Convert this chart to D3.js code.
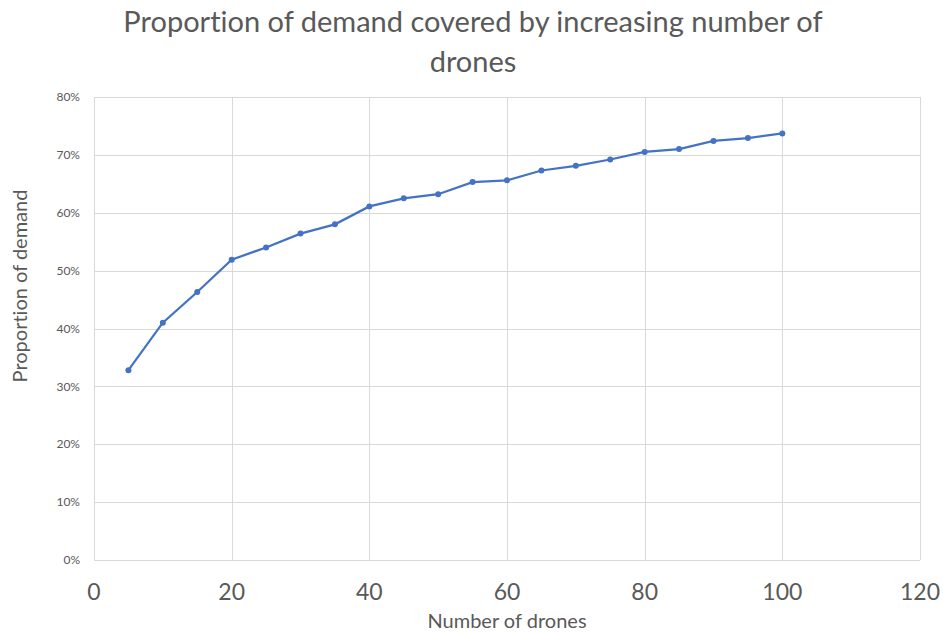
<!DOCTYPE html>
<html>
<head>
<meta charset="utf-8">
<script src="https://cdn.jsdelivr.net/npm/d3@7"></script>
<style>
  body { margin: 0; background: #fff; }
  text { font-family: Lato, "Open Sans", sans-serif; fill: #595959; font-variant-ligatures: none; }
</style>
</head>
<body>
<div id="chart"></div>
<script>
// number of drones and the share of demand they cover
var drones = [5, 10, 15, 20, 25, 30, 35, 40, 45, 50, 55, 60, 65, 70, 75, 80, 85, 90, 95, 100];
var demand = [0.328, 0.410, 0.463, 0.519, 0.540, 0.564, 0.580, 0.611, 0.625, 0.632, 0.653, 0.656, 0.673, 0.681, 0.692, 0.705, 0.710, 0.724, 0.729, 0.737];
var xTicks = [0, 20, 40, 60, 80, 100, 120];
var yTicks = [0, 0.1, 0.2, 0.3, 0.4, 0.5, 0.6, 0.7, 0.8];
var titleLines = ["Proportion of demand covered by increasing number of", "drones"];

var width = 943, height = 633;
var plotLeft = 94, plotRight = 920, plotTop = 97, plotBottom = 560;

var svg = d3.select("#chart").append("svg")
  .attr("width", width)
  .attr("height", height);

var x = d3.scaleLinear().domain([0, 120]).range([plotLeft, plotRight]);
var y = d3.scaleLinear().domain([0, 0.8]).range([plotBottom, plotTop]);

// gridlines
svg.append("g").selectAll("line")
  .data(yTicks)
  .enter().append("line")
  .attr("x1", plotLeft).attr("x2", plotRight)
  .attr("y1", function(d) { return Math.round(y(d)) + 0.5; })
  .attr("y2", function(d) { return Math.round(y(d)) + 0.5; })
  .style("stroke", "#d9d9d9")
  .style("stroke-width", 1);

svg.append("g").selectAll("line")
  .data(xTicks)
  .enter().append("line")
  .attr("y1", plotTop).attr("y2", plotBottom)
  .attr("x1", function(d) { return Math.round(x(d)) + 0.5; })
  .attr("x2", function(d) { return Math.round(x(d)) + 0.5; })
  .style("stroke", "#d9d9d9")
  .style("stroke-width", 1);

// tick labels
svg.append("g").selectAll("text")
  .data(yTicks)
  .enter().append("text")
  .attr("x", 80)
  .attr("y", function(d) { return y(d); })
  .attr("dy", ".35em")
  .style("text-anchor", "end")
  .style("font-size", "12px")
  .text(d3.format(".0%"));

svg.append("g").selectAll("text")
  .data(xTicks)
  .enter().append("text")
  .attr("x", function(d) { return x(d); })
  .attr("y", 600)
  .style("text-anchor", "middle")
  .style("font-size", "23px")
  .text(function(d) { return d; });

// titles
svg.append("g").selectAll("text")
  .data(titleLines)
  .enter().append("text")
  .attr("x", 473)
  .attr("y", function(d, i) { return 32 + i * 40; })
  .style("text-anchor", "middle")
  .style("font-size", "29px")
  .text(function(d) { return d; });

svg.append("text")
  .attr("x", 507)
  .attr("y", 628)
  .style("text-anchor", "middle")
  .style("font-size", "20px")
  .text("Number of drones");

svg.append("text")
  .attr("transform", "translate(27,286) rotate(-90)")
  .style("text-anchor", "middle")
  .style("font-size", "20px")
  .text("Proportion of demand");

// series
var line = d3.line()
  .x(function(d, i) { return x(drones[i]); })
  .y(function(d) { return y(d); });

svg.append("path")
  .datum(demand)
  .attr("d", line)
  .style("fill", "none")
  .style("stroke", "#4472c4")
  .style("stroke-width", 2.25);

svg.append("g").selectAll("circle")
  .data(demand)
  .enter().append("circle")
  .attr("cx", function(d, i) { return x(drones[i]); })
  .attr("cy", function(d) { return y(d); })
  .attr("r", 3)
  .style("fill", "#4472c4");
</script>
</body>
</html>
